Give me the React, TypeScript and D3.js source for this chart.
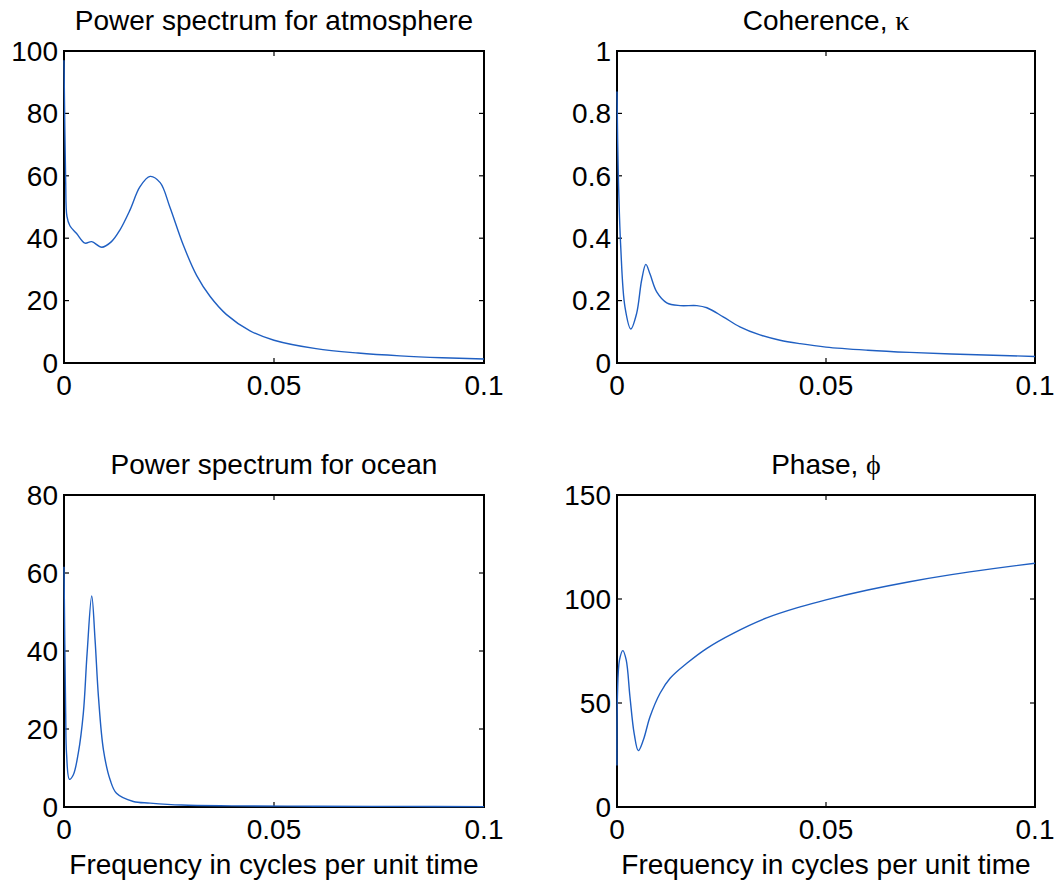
import React from "react";
import * as d3 from "d3";

// ---- data ----
const atmFreq = [0, 0.0002, 0.0004, 0.0007, 0.0014, 0.003, 0.005, 0.0066, 0.009, 0.0113, 0.0133, 0.0157, 0.0181, 0.0205, 0.0229, 0.0252, 0.0284, 0.0316, 0.0348, 0.0387, 0.0443, 0.05, 0.06, 0.07, 0.08, 0.09, 0.1];
const atmPower = [97, 75, 58, 47, 44, 41.5, 38.4, 38.9, 37.1, 38.9, 42.6, 49, 56.5, 59.8, 57.8, 50, 37.8, 28, 21.3, 15.5, 10.3, 7.3, 4.6, 3.2, 2.3, 1.7, 1.3];

const cohFreq = [0, 0.0003, 0.0009, 0.0019, 0.0033, 0.0047, 0.0059, 0.0069, 0.0079, 0.0095, 0.0119, 0.0151, 0.0191, 0.0215, 0.0254, 0.0294, 0.0342, 0.039, 0.0438, 0.05, 0.06, 0.07, 0.08, 0.09, 0.1];
const cohValue = [0.87, 0.61, 0.37, 0.18, 0.109, 0.159, 0.266, 0.316, 0.285, 0.228, 0.193, 0.184, 0.184, 0.177, 0.148, 0.116, 0.09, 0.073, 0.062, 0.051, 0.041, 0.034, 0.029, 0.025, 0.021];

const ocnFreq = [0, 0.0004, 0.0006, 0.0013, 0.0022, 0.0034, 0.0046, 0.0055, 0.0066, 0.0074, 0.0082, 0.0094, 0.011, 0.0125, 0.0165, 0.0205, 0.028, 0.04, 0.06, 0.08, 0.1];
const ocnPower = [61.6, 24, 13.8, 7.1, 8.2, 13.8, 24, 39.4, 54.1, 42.8, 28.3, 14.6, 6.9, 3.5, 1.4, 1.0, 0.5, 0.3, 0.2, 0.15, 0.1];

const phaseFreq = [0, 0.0001, 0.0006, 0.0014, 0.0022, 0.0031, 0.0041, 0.0051, 0.0063, 0.0079, 0.0103, 0.0127, 0.0167, 0.0215, 0.0278, 0.0358, 0.0438, 0.05, 0.06, 0.07, 0.08, 0.09, 0.1];
const phaseValue = [20, 53, 70.7, 75.2, 70.7, 53, 35.4, 27.1, 32.2, 43.4, 54.7, 61.9, 69.1, 76.3, 83.5, 90.9, 96.2, 99.6, 104.3, 108.3, 111.7, 114.6, 117.2];

const xTicks = [0, 0.05, 0.1];
const xTickLabels = ["0", "0.05", "0.1"];
const atmTicks = [0, 20, 40, 60, 80, 100];
const cohTicks = [0, 0.2, 0.4, 0.6, 0.8, 1];
const cohTickLabels = ["0", "0.2", "0.4", "0.6", "0.8", "1"];
const ocnTicks = [0, 20, 40, 60, 80];
const phaseTicks = [0, 50, 100, 150];

const xLabel = "Frequency in cycles per unit time";

const FONT = "Liberation Sans, Arial, Helvetica, sans-serif";
const LINE = "#1f5fc2";

type PanelProps = {
  left: number; top: number; width: number; height: number;
  freq: number[]; values: number[];
  yMax: number; yTicks: number[]; yTickLabels?: string[];
  title: string; greek?: string; showXLabel?: boolean;
};

function Panel(p: PanelProps) {
  const x = d3.scaleLinear().domain([0, 0.1]).range([p.left, p.left + p.width]);
  const y = d3.scaleLinear().domain([0, p.yMax]).range([p.top + p.height, p.top]);
  const pts: [number, number][] = p.freq.map((f, i) => [f, p.values[i]]);
  const line = d3.line<[number, number]>()
    .x(d => x(d[0]))
    .y(d => y(d[1]))
    .curve(d3.curveCatmullRom.alpha(0.5));
  const tl = 5;
  const bottom = p.top + p.height;
  const right = p.left + p.width;
  return (
    <g>
      {xTicks.map((t, i) => (
        <g key={"xt" + i}>
          <line x1={x(t)} x2={x(t)} y1={bottom} y2={bottom - tl} stroke="#000" strokeWidth={1.2} />
          <line x1={x(t)} x2={x(t)} y1={p.top} y2={p.top + tl} stroke="#000" strokeWidth={1.2} />
          <text x={x(t)} y={bottom + 32} textAnchor="middle" fontSize={28} fontFamily={FONT}>{xTickLabels[i]}</text>
        </g>
      ))}
      {p.yTicks.map((t, i) => (
        <g key={"yt" + i}>
          <line x1={p.left} x2={p.left + tl} y1={y(t)} y2={y(t)} stroke="#000" strokeWidth={1.2} />
          <line x1={right} x2={right - tl} y1={y(t)} y2={y(t)} stroke="#000" strokeWidth={1.2} />
          <text x={p.left - 6} y={y(t)} dy="0.35em" textAnchor="end" fontSize={28} fontFamily={FONT}>
            {p.yTickLabels ? p.yTickLabels[i] : String(t)}
          </text>
        </g>
      ))}
      <rect x={p.left} y={p.top} width={p.width} height={p.height} fill="none" stroke="#000" strokeWidth={2} />
      <path d={line(pts) || ""} fill="none" stroke={LINE} strokeWidth={1.4} />
      <text x={p.left + p.width / 2} y={p.top - 21} textAnchor="middle" fontSize={28} fontFamily={FONT}>
        {p.title}
        {p.greek ? <tspan fontFamily="Liberation Serif, Times New Roman, serif">{p.greek}</tspan> : null}
      </text>
      {p.showXLabel ? (
        <text x={p.left + p.width / 2} y={bottom + 67} textAnchor="middle" fontSize={28} fontFamily={FONT}>{xLabel}</text>
      ) : null}
    </g>
  );
}

export default function App() {
  const W = 1058, H = 884;
  const L1 = 64, L2 = 617, PW1 = 420, PW2 = 418;
  const T1 = 51, T2 = 495, PH = 312;
  return (
    <svg width={W} height={H} style={{ position: "absolute", left: 0, top: 0, background: "#fff" }}>
      <rect width={W} height={H} fill="#fff" />
      <Panel left={L1} top={T1} width={PW1} height={PH} freq={atmFreq} values={atmPower}
        yMax={100} yTicks={atmTicks} title="Power spectrum for atmosphere" />
      <Panel left={L2} top={T1} width={PW2} height={PH} freq={cohFreq} values={cohValue}
        yMax={1} yTicks={cohTicks} yTickLabels={cohTickLabels} title="Coherence, " greek="κ" />
      <Panel left={L1} top={T2} width={PW1} height={PH} freq={ocnFreq} values={ocnPower}
        yMax={80} yTicks={ocnTicks} title="Power spectrum for ocean" showXLabel />
      <Panel left={L2} top={T2} width={PW2} height={PH} freq={phaseFreq} values={phaseValue}
        yMax={150} yTicks={phaseTicks} title="Phase, " greek="ϕ" showXLabel />
    </svg>
  );
}
